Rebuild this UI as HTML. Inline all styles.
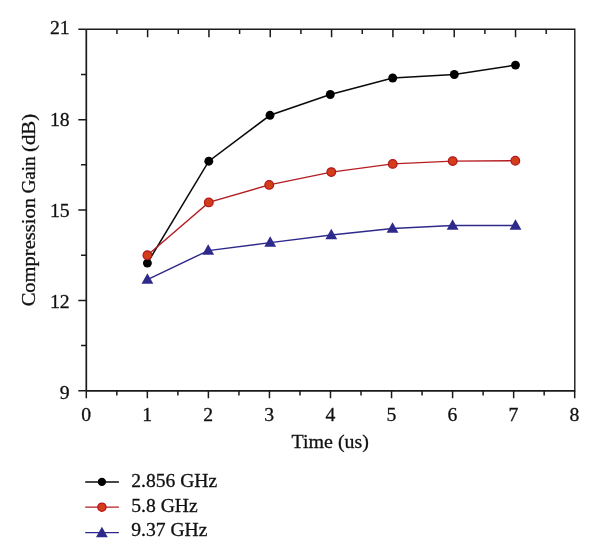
<!DOCTYPE html><html><head><meta charset="utf-8"><title>Compression Gain</title>
<style>html,body{margin:0;padding:0;background:#fff}svg{display:block}text{font-family:"Liberation Serif",serif;fill:#111;stroke:#111;stroke-width:0.3px}</style></head><body>
<svg width="600" height="559" viewBox="0 0 600 559">
<rect width="600" height="559" fill="#fff"/>
<g stroke="#1a1a1a" fill="none" stroke-linecap="butt">
<path d="M86.3,29.3 V390.8" stroke-width="1.7"/>
<path d="M86.3,390.8 H574.8" stroke-width="1.7"/>
<path d="M86.3,29.3 H574.8 V391.6" stroke-width="1.4"/>
<path d="M78.3,29.30 H86.3 M81.0,74.49 H86.3 M78.3,119.68 H86.3 M81.0,164.86 H86.3 M78.3,210.05 H86.3 M81.0,255.24 H86.3 M78.3,300.43 H86.3 M81.0,345.61 H86.3 M78.3,390.80 H86.3 " stroke-width="1.5"/>
<path d="M86.30,390.8 V398.2 M116.82,390.8 V395.6 M147.35,390.8 V398.2 M177.88,390.8 V395.6 M208.40,390.8 V398.2 M238.93,390.8 V395.6 M269.45,390.8 V398.2 M299.97,390.8 V395.6 M330.50,390.8 V398.2 M361.02,390.8 V395.6 M391.55,390.8 V398.2 M422.07,390.8 V395.6 M452.60,390.8 V398.2 M483.12,390.8 V395.6 M513.65,390.8 V398.2 M544.17,390.8 V395.6 M574.70,390.8 V398.2 " stroke-width="1.5"/>
<path d="M116.96,29.3 V34.1 M147.62,29.3 V37.3 M178.28,29.3 V34.1 M208.94,29.3 V37.3 M239.60,29.3 V34.1 M270.26,29.3 V37.3 M300.92,29.3 V34.1 M331.58,29.3 V37.3 M362.24,29.3 V34.1 M392.90,29.3 V37.3 M423.56,29.3 V34.1 M454.22,29.3 V37.3 M484.88,29.3 V34.1 M515.54,29.3 V37.3 M546.20,29.3 V34.1 " stroke-width="1.5"/>
</g>
<text x="69.6" y="34.40" font-size="19.7" text-anchor="end">21</text>
<text x="69.6" y="125.60" font-size="19.7" text-anchor="end">18</text>
<text x="69.6" y="216.80" font-size="19.7" text-anchor="end">15</text>
<text x="69.6" y="308.00" font-size="19.7" text-anchor="end">12</text>
<text x="69.6" y="399.20" font-size="19.7" text-anchor="end">9</text>
<text x="86.10" y="420.8" font-size="19.7" text-anchor="middle">0</text>
<text x="147.15" y="420.8" font-size="19.7" text-anchor="middle">1</text>
<text x="208.20" y="420.8" font-size="19.7" text-anchor="middle">2</text>
<text x="269.25" y="420.8" font-size="19.7" text-anchor="middle">3</text>
<text x="330.30" y="420.8" font-size="19.7" text-anchor="middle">4</text>
<text x="391.35" y="420.8" font-size="19.7" text-anchor="middle">5</text>
<text x="452.40" y="420.8" font-size="19.7" text-anchor="middle">6</text>
<text x="513.45" y="420.8" font-size="19.7" text-anchor="middle">7</text>
<text x="574.50" y="420.8" font-size="19.7" text-anchor="middle">8</text>
<text x="291.6" y="447.8" font-size="19.7" textLength="77.3" lengthAdjust="spacingAndGlyphs">Time (us)</text>
<text transform="translate(35.2,306.3) rotate(-90)" font-size="19.7" textLength="108.2" lengthAdjust="spacingAndGlyphs">Compression</text>
<text transform="translate(35.2,193.6) rotate(-90)" font-size="19.7" textLength="37.2" lengthAdjust="spacingAndGlyphs">Gain</text>
<text transform="translate(35.2,152.0) rotate(-90)" font-size="19.7" textLength="38.2" lengthAdjust="spacingAndGlyphs">(dB)</text>
<polyline points="147.4,263.1 208.8,161.2 270.0,115.3 330.3,94.5 392.7,78.0 454.3,74.5 515.5,65.1" fill="none" stroke="#0a0a0a" stroke-width="1.55"/>
<circle cx="147.4" cy="263.1" r="4.45" fill="#000"/>
<circle cx="208.8" cy="161.2" r="4.45" fill="#000"/>
<circle cx="270" cy="115.3" r="4.45" fill="#000"/>
<circle cx="330.3" cy="94.5" r="4.45" fill="#000"/>
<circle cx="392.7" cy="78" r="4.45" fill="#000"/>
<circle cx="454.3" cy="74.5" r="4.45" fill="#000"/>
<circle cx="515.5" cy="65.1" r="4.45" fill="#000"/>
<polyline points="147.4,255.3 208.8,202.4 269.2,184.9 331.3,172.1 392.7,163.9 452.7,161.1 515.3,160.7" fill="none" stroke="#b51c22" stroke-width="1.35"/>
<circle cx="147.4" cy="255.3" r="4.3" fill="#d43d1a" stroke="#b3181e" stroke-width="1.3"/>
<circle cx="208.8" cy="202.4" r="4.3" fill="#d43d1a" stroke="#b3181e" stroke-width="1.3"/>
<circle cx="269.2" cy="184.9" r="4.3" fill="#d43d1a" stroke="#b3181e" stroke-width="1.3"/>
<circle cx="331.3" cy="172.1" r="4.3" fill="#d43d1a" stroke="#b3181e" stroke-width="1.3"/>
<circle cx="392.7" cy="163.9" r="4.3" fill="#d43d1a" stroke="#b3181e" stroke-width="1.3"/>
<circle cx="452.7" cy="161.1" r="4.3" fill="#d43d1a" stroke="#b3181e" stroke-width="1.3"/>
<circle cx="515.3" cy="160.7" r="4.3" fill="#d43d1a" stroke="#b3181e" stroke-width="1.3"/>
<polyline points="147.4,279.6 208.2,250.6 270.2,242.6 331.3,235.0 392.5,228.5 452.6,225.5 515.5,225.5" fill="none" stroke="#2e2a8c" stroke-width="1.45"/>
<path d="M147.4,273.2 L153.3,283.8 H141.5 Z" fill="#2e2a8c"/>
<path d="M208.2,244.3 L214.1,254.8 H202.3 Z" fill="#2e2a8c"/>
<path d="M270.2,236.3 L276.1,246.8 H264.3 Z" fill="#2e2a8c"/>
<path d="M331.3,228.7 L337.2,239.2 H325.4 Z" fill="#2e2a8c"/>
<path d="M392.5,222.2 L398.4,232.7 H386.6 Z" fill="#2e2a8c"/>
<path d="M452.6,219.2 L458.5,229.7 H446.7 Z" fill="#2e2a8c"/>
<path d="M515.5,219.2 L521.4,229.7 H509.6 Z" fill="#2e2a8c"/>
<path d="M85.2,481.9 H118.9" stroke="#0a0a0a" stroke-width="1.5"/><circle cx="101.9" cy="481.9" r="4.15" fill="#000"/>
<path d="M85.2,507.2 H118.9" stroke="#b51c22" stroke-width="1.3"/><circle cx="101.9" cy="507.2" r="4.1" fill="#d43d1a" stroke="#b3181e" stroke-width="1.3"/>
<path d="M85.2,532.6 H118.9" stroke="#2e2a8c" stroke-width="1.4"/><path d="M101.9,526.7 L107.8,537.3 H96.0 Z" fill="#2e2a8c"/>
<text x="131.2" y="486.8" font-size="19.3" textLength="86" lengthAdjust="spacingAndGlyphs">2.856 GHz</text>
<text x="131.2" y="511.7" font-size="19.3" textLength="66.6" lengthAdjust="spacingAndGlyphs">5.8 GHz</text>
<text x="131.2" y="536.3" font-size="19.3" textLength="76.3" lengthAdjust="spacingAndGlyphs">9.37 GHz</text>
</svg></body></html>
